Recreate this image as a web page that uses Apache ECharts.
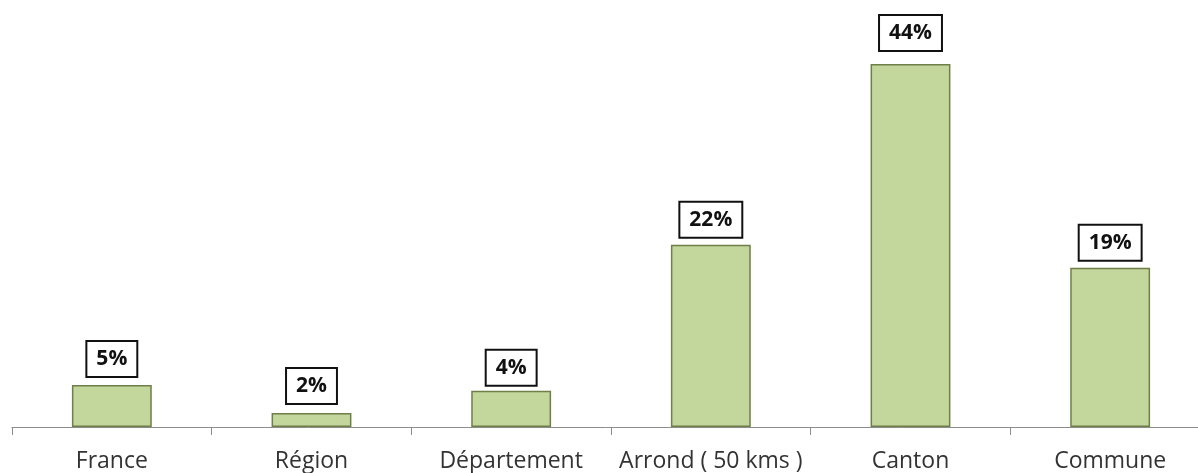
<!DOCTYPE html>
<html><head><meta charset="utf-8">
<script src="https://cdn.jsdelivr.net/npm/echarts@6/dist/echarts.min.js"></script>
<style>html,body{margin:0;padding:0;background:#fff}#c{width:1198px;height:473px}</style>
</head><body><div id="c"></div>
<script>
const categories = ["France", "Région", "Département", "Arrond ( 50 kms )", "Canton", "Commune"];
const values = [5.1, 1.7, 4.4, 22.1, 44, 19.3];
const labels = ["5%", "2%", "4%", "22%", "44%", "19%"];
const labelGap = [9, 10, 6, 8, 14, 8];

const chart = echarts.init(document.getElementById('c'));
chart.setOption({
  animation: false,
  grid: { left: 12, width: 1198, top: 0, bottom: 46, containLabel: false, outerBoundsMode: 'none' },
  xAxis: {
    type: 'category', data: categories,
    axisLine: { lineStyle: { color: '#8c8c8c', width: 1 } },
    axisTick: { show: true, length: 8, inside: false, lineStyle: { color: '#8c8c8c' } },
    axisLabel: { color: '#333', fontSize: 23, margin: 23, interval: 0, hideOverlap: false, fontFamily: 'Open Sans, sans-serif' }
  },
  yAxis: { type: 'value', min: 0, max: 51.75, show: false, splitLine: { show: false } },
  series: [{
    type: 'bar', barWidth: '40%',
    data: values.map((v, i) => ({ value: v, label: { distance: labelGap[i] } })),
    itemStyle: { color: '#c3d69b', borderColor: '#6f7f4a', borderWidth: 1.5 },
    label: {
      show: true, position: 'top',
      formatter: p => labels[p.dataIndex],
      color: '#111', fontWeight: 'bold', fontSize: 21, lineHeight: 26, fontFamily: 'Open Sans, sans-serif',
      backgroundColor: '#fff', borderColor: '#111', borderWidth: 2,
      padding: [4, 9, 4, 9]
    }
  }]
});
</script></body></html>
